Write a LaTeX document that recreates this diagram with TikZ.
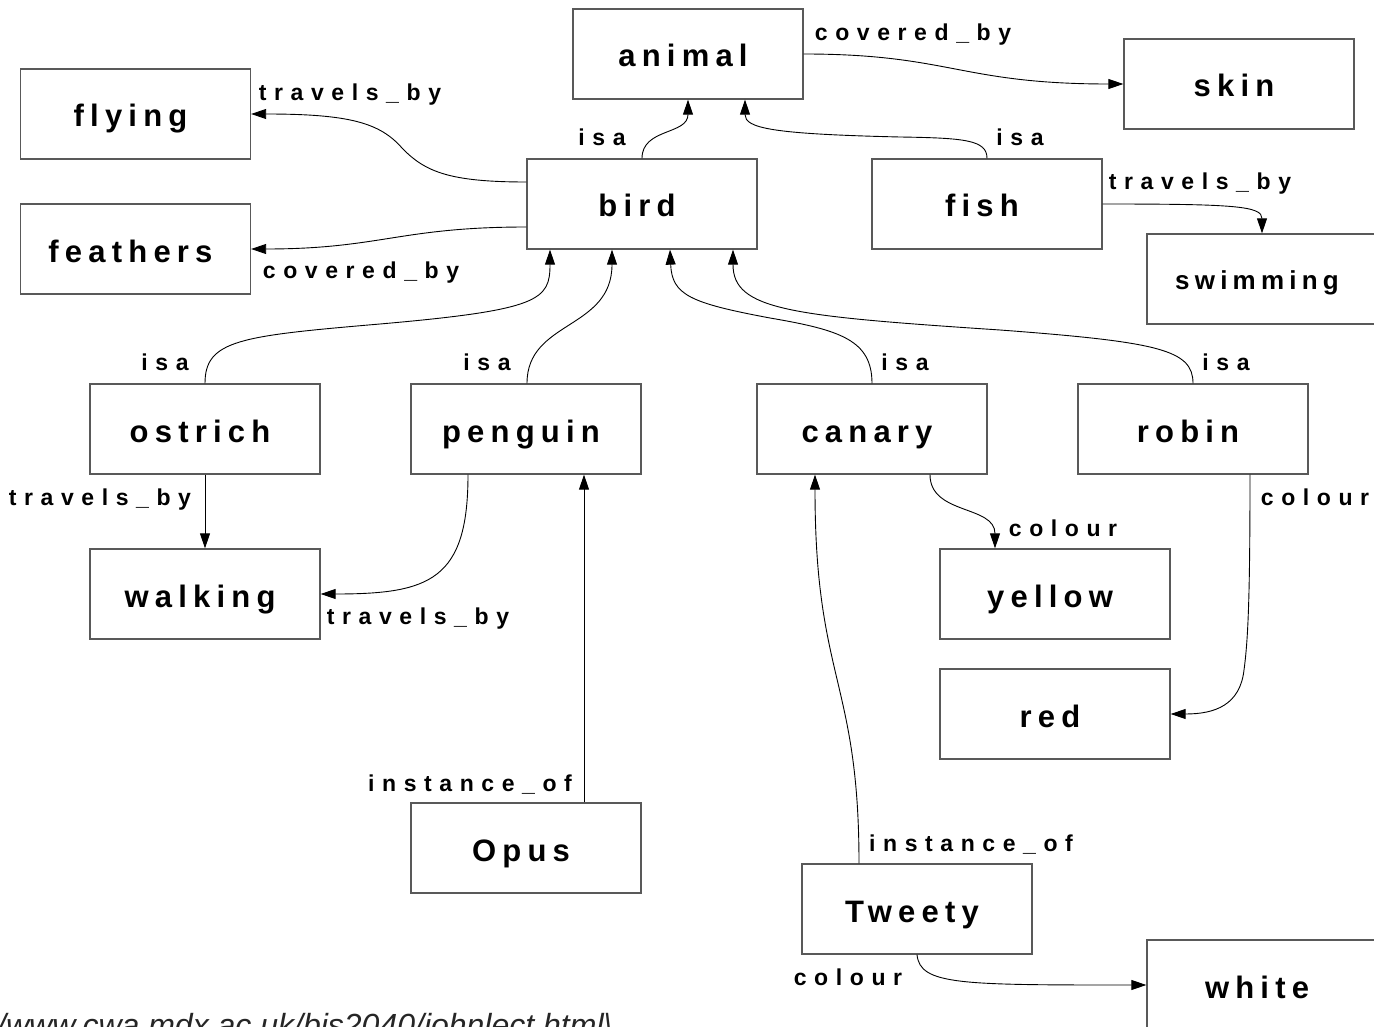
\documentclass[tikz,border=0pt]{standalone}
\usepackage{fontspec}
\setmainfont{Liberation Sans}
\newfontfamily\boxfont[LetterSpace=20]{Liberation Sans Bold}
\newfontfamily\labfont[LetterSpace=33]{Liberation Sans Bold}
\usetikzlibrary{arrows.meta}
\tikzset{
  concept/.style={draw=black!65, line width=1.3pt, minimum width=230pt, minimum height=90pt,
    inner sep=0pt, text height=26pt, text depth=0pt,
    font=\boxfont\fontsize{31}{36}\selectfont, execute at end node={\kern10pt}},
  smallconcept/.style={concept, text height=22pt, font=\boxfont\fontsize{26}{30}\selectfont},
  rel/.style={anchor=base, inner sep=0pt, font=\labfont\fontsize{23}{27}\selectfont},
  link/.style={draw=black, line width=0.9pt, -{Triangle[length=15pt,width=10pt]}}
}
\begin{document}
\begin{tikzpicture}[x=1pt,y=-1pt]
\useasboundingbox (0,0) rectangle (1374,1027);
\clip (0,0) rectangle (1374,1027);
\fill[white] (0,0) rectangle (1374,1027);

% concepts
\node[concept] (animal) at (688,54) {animal};
\node[concept] (skin) at (1239,84) {skin};
\node[concept] (flying) at (135.5,114) {flying};
\node[concept] (bird) at (642,204) {bird};
\node[concept] (fish) at (987,204) {fish};
\node[concept] (feathers) at (135.5,249) {feathers};
\node[smallconcept] (swimming) at (1262,279) {swimming};
\node[concept] (ostrich) at (205,429) {ostrich};
\node[concept] (penguin) at (526,429) {penguin};
\node[concept] (canary) at (872,429) {canary};
\node[concept] (robin) at (1193,429) {robin};
\node[concept] (walking) at (205,594) {walking};
\node[concept] (yellow) at (1055,594) {yellow};
\node[concept] (red) at (1055,714) {red};
\node[concept] (opus) at (526,848) {Opus};
\node[concept] (tweety) at (917,909) {Tweety};
\node[concept] (white) at (1262,985) {white};

% connectors
\draw[link] (bird.north) .. controls (642,128) and (688,135) .. (animal.south);
\draw[link] (fish.north) .. controls (987,140) and (965,138) .. (900,137)
   .. controls (770,134) and (745,128) .. ([xshift=57pt]animal.south);
\draw[link] (animal.east) .. controls (950,54) and (960,84) .. (skin.west);
\draw[link] ([yshift=22pt]bird.west) .. controls (450,182) and (425,172) .. (402,148)
   .. controls (380,123) and (350,114) .. (flying.east);
\draw[link] ([yshift=-23pt]bird.west) .. controls (400,227) and (380,249) .. (feathers.east);
\draw[link] (fish.east) .. controls (1235,204) and (1262,206) .. (swimming.north);
\draw[link] (ostrich.north) .. controls (205,340) and (240,336) .. (380,324)
   .. controls (540,310) and (550,300) .. ([xshift=-92pt]bird.south);
\draw[link] ([xshift=1pt]penguin.north) .. controls (527,320) and (612,330) .. ([xshift=-30pt]bird.south);
\draw[link] (canary.north) .. controls (872,340) and (840,330) .. (770,318)
   .. controls (690,303) and (672,295) .. ([xshift=28pt]bird.south);
\draw[link] (robin.north) .. controls (1193,350) and (1160,342) .. (1000,330)
   .. controls (790,316) and (733,310) .. ([xshift=91pt]bird.south);
\draw[link] (ostrich.south) -- (walking.north);
\draw[link] ([xshift=-58pt]penguin.south) .. controls (468,580) and (430,594) .. (walking.east);
\draw[link] ([xshift=58pt]canary.south) .. controls (930,515) and (995,505) .. ([xshift=-60pt]yellow.north);
\draw[link] ([xshift=57pt]robin.south) .. controls (1250,600) and (1248,640) .. (1244,670)
   .. controls (1240,705) and (1215,714) .. (red.east);
\draw[link] ([xshift=58pt]opus.north) -- ([xshift=58pt]penguin.south);
\draw[link] ([xshift=-58pt]tweety.north) .. controls (859,680) and (815,680) .. ([xshift=-57pt]canary.south);
\draw[link] (tweety.south) .. controls (920,985) and (960,985) .. (white.west);

% labels
\node[rel] (l1) at (913,41) {covered\_by};
\node[rel] (l2) at (350,101) {travels\_by};
\node[rel] (l3) at (602,146) {isa};
\node[rel] (l4) at (1020,146) {isa};
\node[rel] (l5) at (1200,190) {travels\_by};
\node[rel] (l6) at (361,279) {covered\_by};
\node[rel] (l7) at (165,370) {isa};
\node[rel] (l8) at (487,370) {isa};
\node[rel] (l9) at (905,370) {isa};
\node[rel] (l10) at (1226,370) {isa};
\node[rel] (l11) at (100,505) {travels\_by};
\node[rel] (l12) at (1315,505) {colour};
\node[rel] (l13) at (1063,536) {colour};
\node[rel] (l14) at (418,624) {travels\_by};
\node[rel] (l15) at (470,791) {instance\_of};
\node[rel] (l16) at (971,851) {instance\_of};
\node[rel] (l17) at (848,985) {colour};

% source line, cut by the frame
\node[anchor=base west, inner sep=0pt, text=black!85,
  font=\itshape\fontsize{32}{38}\selectfont] (url) at (-3,1036)
  {/www.cwa.mdx.ac.uk/bis2040/johnlect.html\textbackslash};
\end{tikzpicture}
\end{document}
